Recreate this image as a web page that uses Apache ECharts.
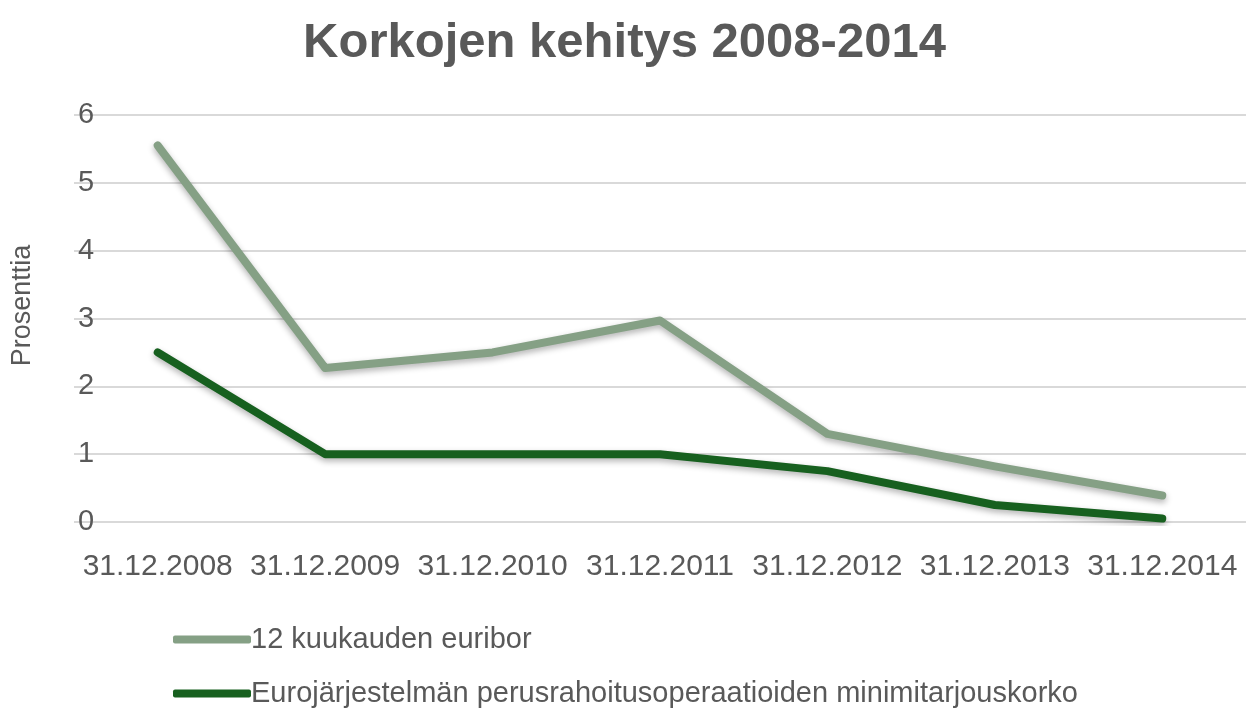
<!DOCTYPE html>
<html>
<head>
<meta charset="utf-8">
<script src="https://cdn.jsdelivr.net/npm/echarts@6/dist/echarts.min.js"></script>
<style>
  html, body { margin: 0; padding: 0; background: #fff; }
  #chart { width: 1249px; height: 711px; }
</style>
</head>
<body>
<div id="chart"></div>
<script>
const categories = ['31.12.2008', '31.12.2009', '31.12.2010', '31.12.2011', '31.12.2012', '31.12.2013', '31.12.2014'];
const euribor = [5.55, 2.27, 2.5, 2.97, 1.3, 0.82, 0.39];
const refiRate = [2.5, 1.0, 1.0, 1.0, 0.75, 0.25, 0.05];
const seriesNames = ['12 kuukauden euribor', 'Eurojärjestelmän perusrahoitusoperaatioiden minimitarjouskorko'];
const seriesColors = ['#85A085', '#17601F'];

const chart = echarts.init(document.getElementById('chart'));
const textColor = '#595959';
const font = 'Liberation Sans, Arial, sans-serif';

const lineSeries = (name, data, color) => ({
    name: name,
    type: 'line',
    data: data,
    symbol: 'none',
    smooth: false,
    lineStyle: {
        color: color,
        width: 8,
        cap: 'round',
        join: 'round',
        shadowColor: 'rgba(0,0,0,0.3)',
        shadowBlur: 6,
        shadowOffsetY: 3
    },
    itemStyle: { color: color }
});

chart.setOption({
    animation: false,
    title: {
        text: 'Korkojen kehitys 2008-2014',
        left: 'center',
        top: 14,
        textStyle: { fontFamily: font, fontSize: 49, fontWeight: 'bold', color: textColor }
    },
    legend: {
        orient: 'vertical',
        left: 168,
        top: 620,
        height: 120,
        itemWidth: 78,
        itemHeight: 8,
        itemGap: 25,
        icon: 'roundRect',
        textStyle: { fontFamily: font, fontSize: 29, color: textColor, padding: [0, 0, 0, -5] },
        data: seriesNames
    },
    grid: { left: 74, right: 3, top: 115, bottom: 189, containLabel: false, outerBoundsMode: 'none' },
    xAxis: {
        type: 'category',
        data: categories,
        boundaryGap: true,
        axisLine: { show: false },
        axisTick: { show: false },
        axisLabel: { interval: 0, hideOverlap: false, margin: 30, fontFamily: font, fontSize: 30, color: textColor }
    },
    yAxis: {
        type: 'value',
        min: 0,
        max: 6,
        interval: 1,
        name: 'Prosenttia',
        nameLocation: 'middle',
        nameGap: 38,
        nameRotate: 90,
        nameTextStyle: { fontFamily: font, fontSize: 27, color: textColor, padding: [0, 0, 0, 26] },
        axisLine: { show: false },
        axisTick: { show: false },
        axisLabel: { inside: true, margin: 4, fontFamily: font, fontSize: 29, color: textColor },
        splitLine: { lineStyle: { color: '#D9D9D9', width: 2 } }
    },
    series: [
        lineSeries(seriesNames[0], euribor, seriesColors[0]),
        lineSeries(seriesNames[1], refiRate, seriesColors[1])
    ]
});
</script>
</body>
</html>
